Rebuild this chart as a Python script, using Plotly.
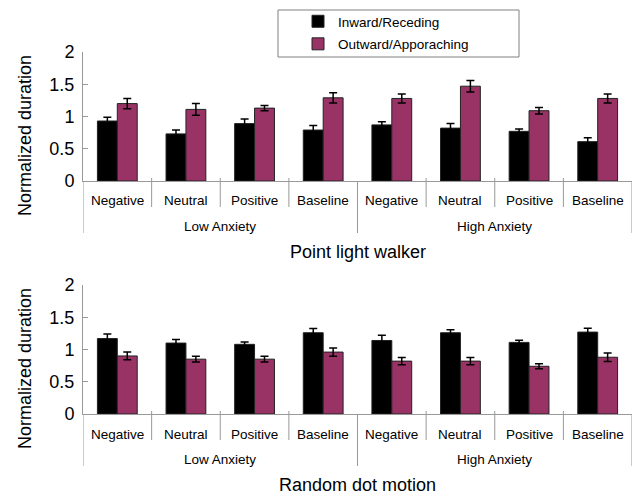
import plotly.graph_objects as go

W, H = 635, 495

conditions = ["Negative", "Neutral", "Positive", "Baseline",
              "Negative", "Neutral", "Positive", "Baseline"]
groups = ["Low Anxiety", "High Anxiety"]
series_names = ["Inward/Receding", "Outward/Apporaching"]
y_ticks = [0, 0.5, 1, 1.5, 2]
y_tick_text = ["0", "0.5", "1", "1.5", "2"]

# Point light walker
plw_inward = [0.93, 0.73, 0.89, 0.79, 0.87, 0.82, 0.77, 0.61]
plw_inward_err = [0.06, 0.06, 0.07, 0.07, 0.05, 0.07, 0.035, 0.06]
plw_outward = [1.20, 1.11, 1.13, 1.29, 1.28, 1.47, 1.09, 1.28]
plw_outward_err = [0.08, 0.09, 0.04, 0.08, 0.07, 0.09, 0.05, 0.07]

# Random dot motion
rdm_inward = [1.17, 1.10, 1.08, 1.26, 1.14, 1.26, 1.11, 1.27]
rdm_inward_err = [0.07, 0.055, 0.035, 0.065, 0.08, 0.045, 0.035, 0.06]
rdm_outward = [0.90, 0.85, 0.85, 0.96, 0.82, 0.82, 0.74, 0.88]
rdm_outward_err = [0.06, 0.045, 0.045, 0.065, 0.055, 0.055, 0.04, 0.065]

panel_titles = ["Point light walker", "Random dot motion"]

BLACK = "#000000"
PURPLE = "#993366"
AXIS = "#999999"
FONT = "Liberation Sans, Arial, sans-serif"

def py(px):
    return 1 - px / H

def pxx(px):
    return px / W

x_pos = list(range(len(conditions)))

fig = go.Figure()

panels = [
    dict(inw=plw_inward, inw_e=plw_inward_err, out=plw_outward, out_e=plw_outward_err,
         y0=181, y2=52, xa="x", ya="y", title=panel_titles[0], show=True),
    dict(inw=rdm_inward, inw_e=rdm_inward_err, out=rdm_outward, out_e=rdm_outward_err,
         y0=414, y2=285, xa="x2", ya="y2", title=panel_titles[1], show=False),
]

shapes = []
annotations = []

for p in panels:
    for name, vals, errs, col in [(series_names[0], p["inw"], p["inw_e"], BLACK),
                                  (series_names[1], p["out"], p["out_e"], PURPLE)]:
        fig.add_trace(go.Bar(
            x=x_pos, y=vals, name=name, xaxis=p["xa"], yaxis=p["ya"],
            marker=dict(color=col, line=dict(color="#222222", width=1)),
            error_y=dict(type="data", array=errs, visible=True, color="#000000",
                         thickness=1.5, width=4),
            showlegend=p["show"], offsetgroup=name, legendgroup=name,
        ))
    y0 = p["y0"]
    xr = "x" if p["xa"] == "x" else "x2"
    # inner dividers
    for xd in [0.5, 1.5, 2.5, 4.5, 5.5, 6.5]:
        shapes.append(dict(type="line", xref=xr, yref="paper", x0=xd, x1=xd,
                           y0=py(y0 - 3), y1=py(y0 + 26),
                           line=dict(color=AXIS, width=1)))
    # outer dividers
    for xd in [-0.5, 3.5, 7.5]:
        shapes.append(dict(type="line", xref=xr, yref="paper", x0=xd, x1=xd,
                           y0=py(y0), y1=py(y0 + 52),
                           line=dict(color=AXIS, width=1)))
    for i, c in enumerate(conditions):
        annotations.append(dict(text=c, x=i, xref=xr, y=py(y0 + 20), yref="paper",
                                showarrow=False, xanchor="center", yanchor="middle",
                                font=dict(family=FONT, size=13.5, color="#000")))
    for gi, g in enumerate(groups):
        annotations.append(dict(text=g, x=1.5 + 4 * gi, xref=xr, y=py(y0 + 45), yref="paper",
                                showarrow=False, xanchor="center", yanchor="middle",
                                font=dict(family=FONT, size=13.5, color="#000")))
    annotations.append(dict(text=p["title"], x=pxx(357.5), xref="paper",
                            y=py(y0 + 71), yref="paper", showarrow=False,
                            xanchor="center", yanchor="middle",
                            font=dict(family=FONT, size=18, color="#000")))
    annotations.append(dict(text="Normalized duration", x=pxx(25), xref="paper",
                            y=py(y0 - 45), yref="paper", showarrow=False, textangle=-90,
                            xanchor="center", yanchor="middle",
                            font=dict(family=FONT, size=18, color="#000")))

# legend box
shapes.append(dict(type="rect", xref="paper", yref="paper",
                   x0=pxx(278), x1=pxx(519), y0=py(57), y1=py(10),
                   line=dict(color="#808080", width=1), fillcolor="white", layer="below"))

xaxis_common = dict(range=[-0.5, 7.5], showticklabels=False, ticks="", showgrid=False,
                    zeroline=False, showline=True, linecolor=AXIS, linewidth=1,
                    domain=[pxx(83), pxx(632)], fixedrange=True, automargin=False)
yaxis_common = dict(range=[0, 2], tickvals=y_ticks, ticktext=y_tick_text, showgrid=False,
                    zeroline=False, showline=True, linecolor=AXIS, linewidth=1,
                    ticks="inside", ticklen=5, tickcolor=AXIS, automargin=False,
                    tickfont=dict(family=FONT, size=18, color="#000"), ticklabelstandoff=4)

fig.update_layout(
    width=W, height=H,
    margin=dict(l=0, r=0, t=0, b=0, pad=0, autoexpand=False),
    paper_bgcolor="white", plot_bgcolor="rgba(0,0,0,0)",
    barmode="group", bargap=0.42, bargroupgap=0,
    xaxis=dict(**xaxis_common, anchor="y"),
    yaxis=dict(**yaxis_common, domain=[py(181), py(52)], anchor="x"),
    xaxis2=dict(**xaxis_common, anchor="y2"),
    yaxis2=dict(**yaxis_common, domain=[py(414), py(285)], anchor="x2"),
    legend=dict(x=pxx(298), xanchor="left", y=py(6), yanchor="top",
                bgcolor="rgba(0,0,0,0)", borderwidth=0,
                font=dict(family=FONT, size=13.5, color="#000"),
                tracegroupgap=2, itemclick=False),
    shapes=shapes, annotations=annotations,
    font=dict(family=FONT),
)

fig.write_html("out.html", config={"displayModeBar": False},
               post_script="document.body.style.margin='0';document.body.style.overflow='hidden';")
